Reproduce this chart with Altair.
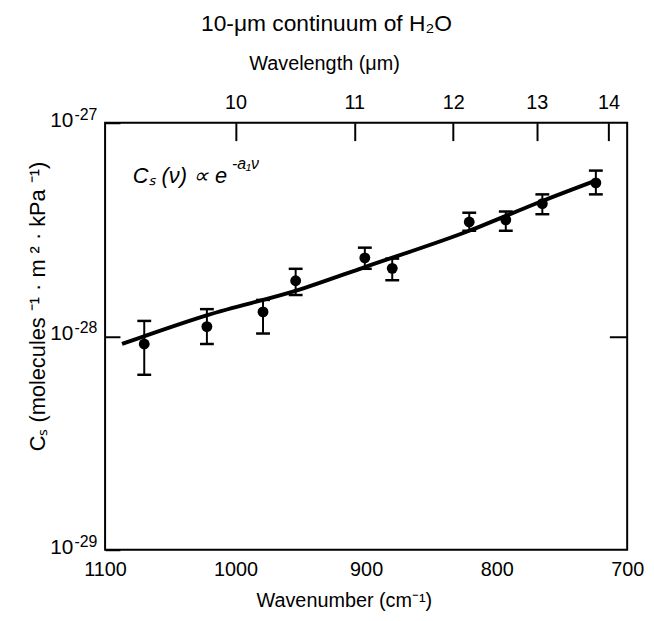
import altair as alt
import pandas as pd

# ---- data ----
wavenumber = [1070, 1022, 979, 954, 901, 880, 821, 793, 765, 724]
cs = [9.2e-29, 1.11e-28, 1.30e-28, 1.82e-28, 2.33e-28, 2.08e-28, 3.43e-28, 3.51e-28, 4.18e-28, 5.23e-28]
cs_upper = [1.18e-28, 1.34e-28, 1.48e-28, 2.07e-28, 2.60e-28, 2.31e-28, 3.79e-28, 3.84e-28, 4.62e-28, 5.97e-28]
cs_lower = [6.6e-29, 9.2e-29, 1.03e-28, 1.56e-28, 2.07e-28, 1.83e-28, 3.12e-28, 3.12e-28, 3.73e-28, 4.62e-28]

fit_wavenumber = [1087, 1021, 953, 901, 821, 765, 724]
fit_cs = [9.2e-29, 1.26e-28, 1.64e-28, 2.11e-28, 3.12e-28, 4.30e-28, 5.36e-28]

wavelength_ticks = [10, 11, 12, 13, 14]
wavenumber_ticks = [1100, 1000, 900, 800, 700]
y_ticks = [1e-29, 1e-28, 1e-27]
y_tick_base = ["10", "10", "10"]
y_tick_exponent = ["-29", "-28", "-27"]

title_text = "10-μm continuum of H₂O"
formula_main = ["Cₛ (ν) ∝  e"]
formula_exp = ["-a₁ν"]

FONT = "Liberation Sans"

pts = pd.DataFrame({"wn": wavenumber, "cs": cs, "hi": cs_upper, "lo": cs_lower})
fit = pd.DataFrame({"wn": fit_wavenumber, "cs": fit_cs})
top = pd.DataFrame({"wn": [10000.0 / w for w in wavelength_ticks], "cs": [1e-28] * len(wavelength_ticks)})
ylab = pd.DataFrame({"cs": y_ticks, "base": y_tick_base, "exp": y_tick_exponent})

xscale = alt.Scale(domain=[700, 1100], reverse=True, nice=False, zero=False)
yscale = alt.Scale(type="log", domain=[1e-29, 1e-27], nice=False)

common_axis = dict(grid=False, domain=False, labelFont=FONT, labelColor="black",
                   titleFont=FONT, titleColor="black", titleFontWeight="normal",
                   tickColor="black", tickWidth=2)

line = alt.Chart(fit).mark_line(color="black", strokeWidth=4, interpolate="monotone").encode(
    x=alt.X("wn:Q", scale=xscale,
            axis=alt.Axis(orient="bottom", values=wavenumber_ticks, ticks=False, labelFontSize=20,
                          labelPadding=10, labelFlush=False, title="Wavenumber (cm⁻¹)",
                          titleFontSize=20, titlePadding=11, titleX=241, format="d", **common_axis)),
    y=alt.Y("cs:Q", scale=yscale,
            axis=alt.Axis(orient="left", values=y_ticks, labels=False, tickSize=15, offset=-15,
                          title="Cₛ  (molecules ⁻¹ · m ² · kPa ⁻¹)", titleFontSize=22,
                          titlePadding=55, titleY=185, **common_axis)),
)

stems = alt.Chart(pts).mark_rule(color="black", strokeWidth=2).encode(
    x=alt.X("wn:Q", scale=xscale, axis=None),
    y=alt.Y("lo:Q", scale=yscale, axis=None),
    y2="hi:Q",
)

cap_hi = alt.Chart(pts).mark_rule(color="black", strokeWidth=2.5, xOffset=-7, x2Offset=7).encode(
    x=alt.X("wn:Q", scale=xscale, axis=None),
    x2="wn:Q",
    y=alt.Y("hi:Q", scale=yscale, axis=None),
)

cap_lo = alt.Chart(pts).mark_rule(color="black", strokeWidth=2.5, xOffset=-7, x2Offset=7).encode(
    x=alt.X("wn:Q", scale=xscale, axis=None),
    x2="wn:Q",
    y=alt.Y("lo:Q", scale=yscale, axis=None),
)

dots = alt.Chart(pts).mark_circle(color="black", size=120, opacity=1).encode(
    x=alt.X("wn:Q", scale=xscale, axis=None),
    y=alt.Y("cs:Q", scale=yscale, axis=None),
)

top_axis = alt.Chart(top).mark_point(opacity=0).encode(
    x=alt.X("wn:Q", scale=xscale,
            axis=alt.Axis(orient="top", values=[10000.0 / w for w in wavelength_ticks],
                          labelExpr="format(10000/datum.value, '.0f')", tickSize=18, offset=-18,
                          labelFontSize=20, labelPadding=10, labelFlush=False,
                          title="Wavelength  (μm)", titleFontSize=20, titlePadding=20, titleX=221,
                          **common_axis)),
    y=alt.Y("cs:Q", scale=yscale,
            axis=alt.Axis(orient="right", values=[1e-28], labels=False, tickSize=18, offset=-18,
                          title=None, **common_axis)),
)

ylab_base = alt.Chart(ylab).mark_text(
    align="right", baseline="middle", fontSize=21, font=FONT, color="black", dy=-2
).encode(x=alt.value(-32), y=alt.Y("cs:Q", scale=yscale, axis=None), text="base:N")

ylab_exp = alt.Chart(ylab).mark_text(
    align="left", baseline="middle", fontSize=16, font=FONT, color="black", dy=-8
).encode(x=alt.value(-31), y=alt.Y("cs:Q", scale=yscale, axis=None), text="exp:N")

ann_main = alt.Chart(pd.DataFrame({"t": formula_main})).mark_text(
    align="left", baseline="middle", fontSize=22, font=FONT, fontStyle="italic", color="black"
).encode(x=alt.value(28), y=alt.value(54), text="t:N")

ann_exp = alt.Chart(pd.DataFrame({"t": formula_exp})).mark_text(
    align="left", baseline="middle", fontSize=16, font=FONT, fontStyle="italic", color="black"
).encode(x=alt.value(128), y=alt.value(42), text="t:N")

chart = alt.layer(line, stems, cap_hi, cap_lo, dots, top_axis, ylab_base, ylab_exp,
                  ann_main, ann_exp).resolve_axis(
    x="independent", y="independent"
).properties(
    width=527,
    height=431,
    autosize=alt.AutoSizeParams(type="none"),
    padding={"left": 98, "top": 113, "right": 19, "bottom": 62},
    title=alt.Title(title_text, font=FONT, fontSize=23, fontWeight="normal", color="black",
                    dx=-40, offset=18),
).configure_view(stroke="black", strokeWidth=2)

chart.save("out.html", embed_options={"renderer": "svg", "actions": False})
